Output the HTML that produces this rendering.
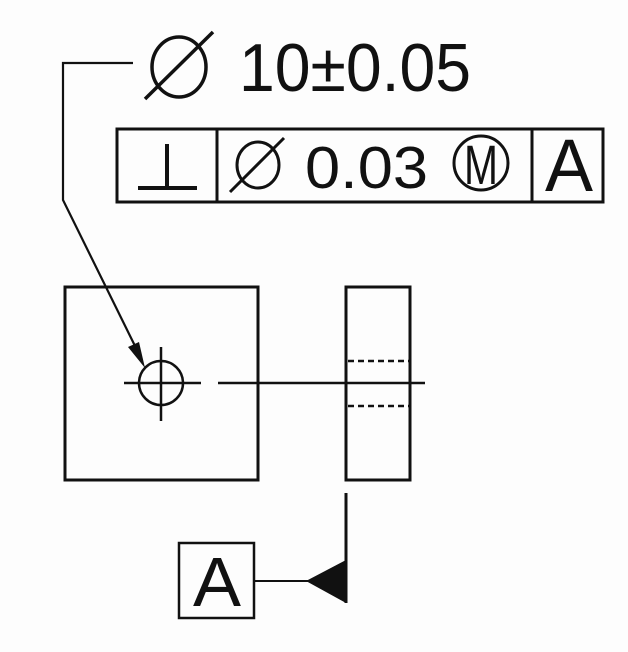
<!DOCTYPE html>
<html><head><meta charset="utf-8"><style>html,body{margin:0;padding:0;background:#fff}svg{display:block}</style></head>
<body>
<svg width="628" height="652" viewBox="0 0 628 652" xmlns="http://www.w3.org/2000/svg" font-family="Liberation Sans, sans-serif">
<rect width="628" height="652" fill="#fdfdfd"/>
<g stroke="#111" fill="none" stroke-width="2.5">
<polyline points="133,63 63,63 63,200 136,348" stroke-width="2.2"/>
<ellipse cx="179" cy="67" rx="27" ry="30" stroke-width="3.5"/>
<line x1="145" y1="99" x2="213" y2="32" stroke-width="3.5"/>
<rect x="117" y="129" width="486" height="73" stroke-width="3"/>
<line x1="217" y1="128" x2="217" y2="202" stroke-width="3"/>
<line x1="532" y1="128" x2="532" y2="202" stroke-width="3"/>
<line x1="167" y1="144" x2="167" y2="188" stroke-width="4"/>
<line x1="138" y1="188" x2="197" y2="188" stroke-width="4"/>
<ellipse cx="258" cy="165" rx="21" ry="23" stroke-width="3"/>
<line x1="230" y1="192" x2="284" y2="138" stroke-width="3"/>
<circle cx="481" cy="163" r="27" stroke-width="3"/>
<rect x="65" y="287" width="193" height="193" stroke-width="3"/>
<circle cx="161" cy="383" r="22" stroke-width="2.5"/>
<line x1="124" y1="383" x2="201" y2="383"/>
<line x1="161" y1="347" x2="161" y2="421"/>
<line x1="218" y1="383" x2="425" y2="383"/>
<rect x="346" y="287" width="64" height="193" stroke-width="3"/>
<line x1="348" y1="361" x2="409" y2="361" stroke-dasharray="6,4"/>
<line x1="348" y1="406" x2="409" y2="406" stroke-dasharray="6,4"/>
<line x1="346" y1="493" x2="346" y2="603" stroke-width="3"/>
<line x1="254" y1="581" x2="310" y2="581" stroke-width="2"/>
<rect x="179" y="543" width="75" height="75" stroke-width="2.5"/>
</g>
<polygon points="145,368 139,342 128,347" fill="#111"/>
<polygon points="306,581 346,560 346,603" fill="#111"/>
<g fill="#111">
<text x="239" y="91" font-size="68" textLength="232" lengthAdjust="spacingAndGlyphs">10±0.05</text>
<text x="305" y="188" font-size="59" textLength="123" lengthAdjust="spacingAndGlyphs">0.03</text>
<text x="464" y="184" font-size="56" textLength="34" lengthAdjust="spacingAndGlyphs">M</text>
<text x="545" y="191" font-size="74" textLength="48" lengthAdjust="spacingAndGlyphs">A</text>
<text x="193" y="606" font-size="70" textLength="48" lengthAdjust="spacingAndGlyphs">A</text>
</g>
</svg>
</body></html>
